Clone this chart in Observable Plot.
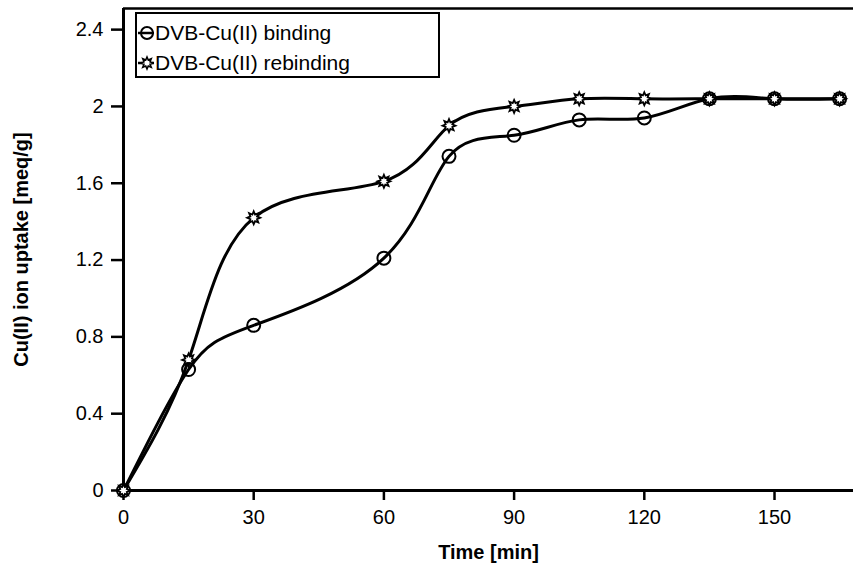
<!DOCTYPE html>
<html>
<head>
<meta charset="utf-8">
<script src="https://cdn.jsdelivr.net/npm/d3@7"></script>
<script src="https://cdn.jsdelivr.net/npm/@observablehq/plot@0.6"></script>
<style>
  body { margin: 0; background: #fff; }
  #wrap { position: relative; width: 853px; height: 570px; font-family: "Liberation Sans", Arial, sans-serif; }
  g[aria-label="x-axis label"] text, g[aria-label="y-axis label"] text { font-weight: bold; font-size: 20px; }
  #legend { position: absolute; left: 135px; top: 12px; width: 301px; height: 62px; border: 2.5px solid #000; background: #fff; font-size: 21px; color: #000; }
  .row { position: absolute; left: 1px; display: flex; align-items: center; height: 26px; }
  .row svg { display: block; margin-right: 1px; }
</style>
</head>
<body>
<div id="wrap"></div>
<script>
const time = [0, 15, 30, 60, 75, 90, 105, 120, 135, 150, 165];
const binding = [0, 0.63, 0.86, 1.21, 1.74, 1.85, 1.93, 1.94, 2.04, 2.04, 2.04];
const rebinding = [0, 0.68, 1.42, 1.61, 1.90, 2.00, 2.04, 2.04, 2.04, 2.04, 2.04];
const seriesNames = ["DVB-Cu(II) binding", "DVB-Cu(II) rebinding"];
const xTicks = [0, 30, 60, 90, 120, 150];
const yTicks = [0, 0.4, 0.8, 1.2, 1.6, 2, 2.4];
const xLabel = "Time [min]";
const yLabel = "Cu(II) ion uptake [meq/g]";

const bindData = time.map((t, i) => ({t, v: binding[i]}));
const rebindData = time.map((t, i) => ({t, v: rebinding[i]}));

const star = {
  draw(ctx, size) {
    const R = Math.sqrt(size / Math.PI), r = R * 0.55, n = 8;
    for (let i = 0; i < 2 * n; i++) {
      const a = i * Math.PI / n - Math.PI / 2;
      const rad = i % 2 ? r : R;
      const x = rad * Math.cos(a), y = rad * Math.sin(a);
      if (i === 0) ctx.moveTo(x, y); else ctx.lineTo(x, y);
    }
    ctx.closePath();
  }
};

const yTop = 2.51, xRight = 168.2;

const chart = Plot.plot({
  width: 853,
  height: 570,
  marginLeft: 123,
  marginRight: 0,
  marginTop: 8,
  marginBottom: 80,
  style: { fontFamily: '"Liberation Sans", Arial, sans-serif', fontSize: "20px", color: "#000", background: "#fff" },
  x: { domain: [0, xRight] },
  y: { domain: [0, yTop] },
  marks: [
    Plot.axisX({ ticks: xTicks, tickSize: 10, tickPadding: 9, strokeWidth: 2.5, fontSize: 20, tickFormat: d => String(d),
      label: xLabel, labelAnchor: "center", labelArrow: "none", labelOffset: 68 }),
    Plot.axisY({ ticks: yTicks, tickSize: 12, tickPadding: 8, strokeWidth: 2.5, fontSize: 20, tickFormat: d => String(d),
      label: yLabel, labelAnchor: "center", labelArrow: "none", labelOffset: 110 }),
    Plot.ruleY([yTop], { strokeWidth: 2.5 }),
    Plot.ruleX([0], { strokeWidth: 3 }),
    Plot.ruleY([0], { strokeWidth: 3 }),
    Plot.line(rebindData, { x: "t", y: "v", curve: "natural", strokeWidth: 3 }),
    Plot.line(bindData, { x: "t", y: "v", curve: "natural", strokeWidth: 3 }),
    Plot.dot(rebindData, { x: "t", y: "v", symbol: star, r: 6.5, fill: "#fff", stroke: "#000", strokeWidth: 1.8 }),
    Plot.dot(bindData, { x: "t", y: "v", symbol: "circle", r: 6.5, fill: "none", stroke: "#000", strokeWidth: 2 })
  ]
});

const wrap = document.getElementById("wrap");
wrap.appendChild(chart);

// legend
const legend = document.createElement("div");
legend.id = "legend";
seriesNames.forEach((name, i) => {
  const row = document.createElement("div");
  row.className = "row";
  row.style.top = (i === 0 ? 6 : 36) + "px";
  const s = d3.create("svg").attr("width", 16).attr("height", 20);
  s.append("line").attr("x1", 0).attr("x2", 16).attr("y1", 10).attr("y2", 10).attr("stroke", "#000").attr("stroke-width", 2.5);
  if (i === 0) {
    s.append("circle").attr("cx", 9).attr("cy", 10).attr("r", 6).attr("fill", "none").attr("stroke", "#000").attr("stroke-width", 2);
  } else {
    s.append("path").attr("transform", "translate(9,10)").attr("d", d3.symbol(star, 6 * 6 * Math.PI)()).attr("fill", "#fff").attr("stroke", "#000").attr("stroke-width", 1.6);
  }
  row.appendChild(s.node());
  const span = document.createElement("span");
  span.textContent = name;
  row.appendChild(span);
  legend.appendChild(row);
});
wrap.appendChild(legend);
</script>
</body>
</html>
